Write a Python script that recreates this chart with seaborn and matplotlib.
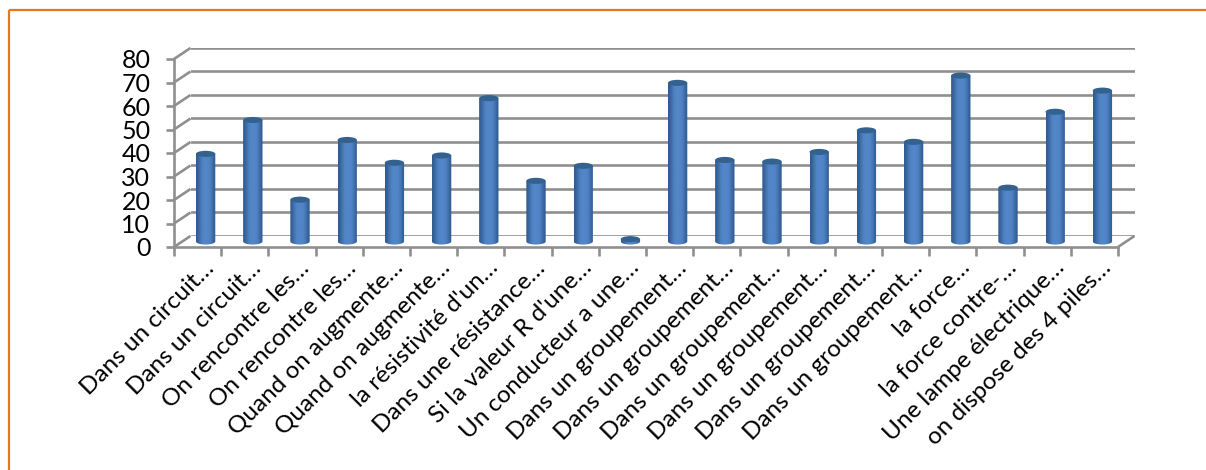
import numpy as np
import pandas as pd
import matplotlib
matplotlib.use("Agg")
import matplotlib.pyplot as plt
from matplotlib.lines import Line2D
from matplotlib.patches import Ellipse, PathPatch
from matplotlib.path import Path
from matplotlib.transforms import ScaledTranslation
import seaborn as sns

labels = ["Dans un circuit…", "Dans un circuit…", "On rencontre les…", "On rencontre les…",
          "Quand on augmente…", "Quand on augmente…", "la résistivité d'un…", "Dans une résistance…",
          "Si la valeur R d'une…", "Un conducteur a une…", "Dans un groupement…", "Dans un groupement…",
          "Dans un groupement…", "Dans un groupement…", "Dans un groupement…", "Dans un groupement…",
          "la force…", "la force contre-…", "Une lampe électrique…", "on dispose des 4 piles…"]
values = [37.3, 51.7, 17.8, 43.2, 33.5, 36.6, 61.0, 25.8, 32.2, 1.0,
          67.5, 34.7, 34.0, 38.1, 47.3, 42.4, 70.6, 22.9, 55.2, 64.2]
yticks = list(range(0, 90, 10))

W, H = 1206, 470
sns.set_theme(style="white")
plt.rcParams['font.family'] = ['Lato', 'DejaVu Sans']
fig = plt.figure(figsize=(W / 100, H / 100), dpi=100, facecolor="white")

def axes_px(x0, x1, ytop, ybot, **kw):
    return fig.add_axes([x0 / W, 1 - ybot / H, (x1 - x0) / W, (ybot - ytop) / H], **kw)

GREY = "#8f8f8f"
LW = 1.9
DX, DY = 16.5, 11
FX0, FX1, FY0, FY1 = 174, 1118, 247, 59   # front plane in pixels

def fig_line(xs, ys, color=GREY, lw=LW):
    fig.add_artist(Line2D([x / W for x in xs], [1 - y / H for y in ys], color=color, lw=lw,
                          solid_capstyle="butt", zorder=1))

# back wall
back = axes_px(FX0 + DX, FX1 + DX, FY1 - DY, FY0 - DY, zorder=1)
back.set_ylim(0, 80)
back.set_xlim(0, 1)
back.set_yticks(yticks)
back.set_xticks([])
back.tick_params(left=False, labelleft=False)
back.grid(True, axis="y", color=GREY, lw=LW)
back.patch.set_alpha(0)
for s in back.spines.values():
    s.set_visible(False)

# side wall and floor edges
for v in yticks:
    y = FY0 + (FY1 - FY0) * v / 80
    fig_line([FX0, FX0 + DX], [y, y - DY])
fig_line([FX1, FX1 + DX], [FY0, FY0 - DY])

# front axis: ticks and labels
front = axes_px(FX0, FX1, FY1, FY0, zorder=2)
front.patch.set_alpha(0)
front.set_xlim(-0.5, len(labels) - 0.5)
front.set_ylim(0, 80)
front.set_yticks(yticks)
front.set_yticklabels([str(v) for v in yticks], fontsize=18, color="black")
front.set_xticks(np.arange(len(labels)))
front.set_xticklabels(labels, rotation=45, ha="right", va="top", rotation_mode="anchor",
                      fontsize=17.5, color="black")
front.set_xticks(np.arange(len(labels) + 1) - 0.5, minor=True)
front.tick_params(axis="x", which="major", length=0, pad=8, bottom=True)
front.tick_params(axis="x", which="minor", length=6.5, width=LW, color=GREY, bottom=True)
front.tick_params(axis="y", length=6, width=LW, color=GREY, pad=11, left=True)
shift = ScaledTranslation(6 / 100, 1 / 100, fig.dpi_scale_trans)
for t in front.get_xticklabels():
    t.set_transform(t.get_transform() + shift)
for name, s in front.spines.items():
    s.set_visible(name in ("left", "bottom"))
    s.set_color(GREY)
    s.set_linewidth(LW)

# data plane (mid depth) with cylinders
ax = axes_px(FX0 + 8, FX1 + 8, FY1 - 5.5, FY0 - 5.5, zorder=3)
ax.patch.set_alpha(0)
df = pd.DataFrame({"pos": [f"{i}" for i in range(len(values))], "valeur": values})
sns.barplot(data=df, x="pos", y="valeur", color="#4f81bd", width=0.41, saturation=1, ax=ax)
ax.set_xlim(-0.5, len(labels) - 0.5)
ax.set_ylim(0, 80)
ax.axis("off")

shade = np.array([0.0, 0.15, 0.42, 0.65, 0.75, 0.75, 0.75, 0.68, 0.45, 0.15, 0.0])
dark = np.array(matplotlib.colors.to_rgb("#2f5a8e"))
light = np.array(matplotlib.colors.to_rgb("#5286c8"))
grad0 = np.array([dark + (light - dark) * s / 0.75 for s in shade])
grad_i = np.linspace(0, 10, 64)
grad = np.array([[[np.interp(g, np.arange(11), grad0[:, c]) for c in range(3)] for g in grad_i]])

ELL = 1.3   # half-height of end caps in data units
for p in list(ax.patches):
    x0, w, h = p.get_x(), p.get_width(), p.get_height()
    x1 = x0 + w
    k = 0.5523
    verts = [(x0, h), (x1, h), (x1, 0),
             (x1, -k * ELL), (x0 + w * 0.5 + w * 0.5 * k, -ELL), (x0 + w * 0.5, -ELL),
             (x0 + w * 0.5 - w * 0.5 * k, -ELL), (x0, -k * ELL), (x0, 0), (x0, h)]
    codes = [Path.MOVETO, Path.LINETO, Path.LINETO,
             Path.CURVE4, Path.CURVE4, Path.CURVE4,
             Path.CURVE4, Path.CURVE4, Path.CURVE4, Path.CLOSEPOLY]
    clip = PathPatch(Path(verts, codes), transform=ax.transData, fc="none", ec="none", clip_on=False)
    ax.add_patch(clip)
    im = ax.imshow(grad, extent=(x0, x1, -ELL - 0.2, h), aspect="auto", zorder=3, interpolation="bilinear")
    im.set_clip_box(fig.bbox)
    im.set_clip_path(clip)
    ax.add_patch(Ellipse((x0 + w / 2, h), w, 2 * ELL, fc="#34628f", ec="none", zorder=4, clip_on=False))
    p.set_visible(False)
ax.set_xlim(-0.5, len(labels) - 0.5)
ax.set_ylim(0, 80)

# orange frame
ORANGE = "#e8761b"
fig_line([9, 9], [H, 10], color=ORANGE, lw=1.6)
fig_line([8.5, W], [10, 10], color=ORANGE, lw=1.6)

fig.savefig("out.png", dpi=100)
